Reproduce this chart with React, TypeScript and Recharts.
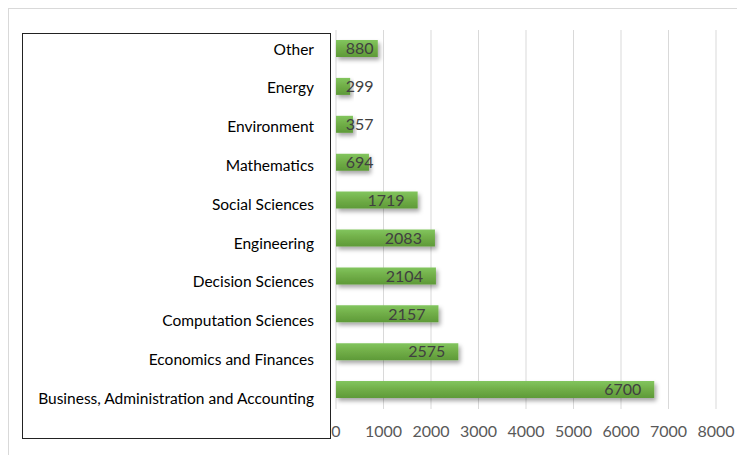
import { BarChart, Bar, XAxis, YAxis, CartesianGrid, LabelList } from 'recharts';

const categories = [
  'Other',
  'Energy',
  'Environment',
  'Mathematics',
  'Social Sciences',
  'Engineering',
  'Decision Sciences',
  'Computation Sciences',
  'Economics and Finances',
  'Business, Administration and Accounting',
];

const counts = [880, 299, 357, 694, 1719, 2083, 2104, 2157, 2575, 6700];

const xTicks = [0, 1000, 2000, 3000, 4000, 5000, 6000, 7000, 8000];

const FONT = 'Lato, "Open Sans", sans-serif';

const data = categories.map((name, i) => ({ name, count: counts[i] }));

// Excel-ish value label: tucked inside the bar end, but never left of the bar start
function ValueLabel(props: any) {
  const { x, y, width, height, value } = props;
  const textW = String(value).length * 9.2;
  const right = Math.max(x + width - 13, x + 10 + textW);
  return (
    <text
      x={right}
      y={y + height / 2}
      dy="0.36em"
      textAnchor="end"
      fill="#404040"
      fontSize={16}
      fontFamily={FONT}
    >
      {value}
    </text>
  );
}

// category labels drift a little lower than the bars in the original (separately boxed axis)
function CategoryTick(props: any) {
  const { x, y, payload, index } = props;
  return (
    <text
      x={x}
      y={y + index * 0.9}
      dy="0.36em"
      textAnchor="end"
      fill="#000"
      fontSize={15.5}
      fontFamily={FONT}
    >
      {payload.value}
    </text>
  );
}

export default function App() {
  return (
    <div
      style={{
        position: 'relative',
        width: 745,
        height: 460,
        borderTop: '1px solid #d9d9d9',
        borderLeft: '1px solid #d9d9d9',
        boxSizing: 'border-box',
        fontFamily: FONT,
      }}
    >
      <div
        style={{
          position: 'absolute',
          left: 13,
          top: 24,
          width: 309,
          height: 406,
          border: '1px solid #222',
          boxSizing: 'border-box',
        }}
      />
      <BarChart
        width={736}
        height={446}
        data={data}
        layout="vertical"
        margin={{ top: 22, right: 28, bottom: 0, left: 0 }}
        style={{ position: 'absolute', left: -1, top: -1 }}
      >
        <defs>
          <linearGradient id="barGreen" x1="0" y1="0" x2="0" y2="1">
            <stop offset="0%" stopColor="#82c55e" />
            <stop offset="50%" stopColor="#70ad47" />
            <stop offset="100%" stopColor="#5e9a38" />
          </linearGradient>
          <filter id="barShadow" x="-10%" y="-40%" width="130%" height="220%">
            <feDropShadow dx="2" dy="3" stdDeviation="2" floodColor="#000" floodOpacity="0.35" />
          </filter>
        </defs>
        <CartesianGrid horizontal={false} stroke="#d9d9d9" />
        <XAxis
          type="number"
          domain={[0, 8000]}
          ticks={xTicks}
          height={45}
          axisLine={false}
          tickLine={false}
          tickSize={0}
          tickMargin={17}
          tick={{ fontSize: 16, fill: '#595959', fontFamily: FONT }}
          interval={0}
        />
        <YAxis
          type="category"
          dataKey="name"
          width={328}
          axisLine={false}
          tickLine={false}
          tickSize={0}
          tickMargin={22}
          tick={<CategoryTick />}
          interval={0}
        />
        <Bar
          dataKey="count"
          barSize={17}
          fill="url(#barGreen)"
          filter="url(#barShadow)"
          isAnimationActive={false}
        >
          <LabelList dataKey="count" content={ValueLabel} />
        </Bar>
      </BarChart>
    </div>
  );
}
